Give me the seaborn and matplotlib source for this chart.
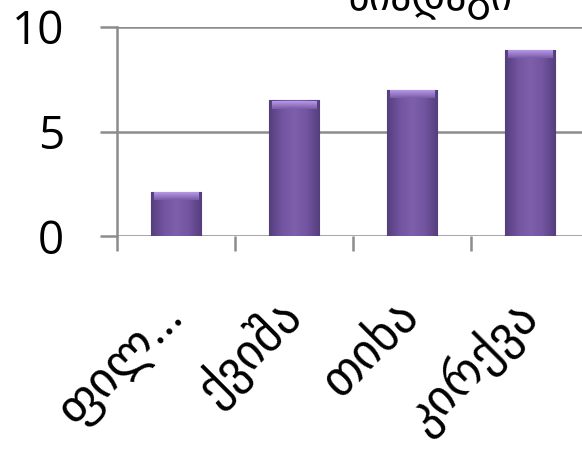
import numpy as np
import matplotlib
matplotlib.use("Agg")
import matplotlib.pyplot as plt
import seaborn as sns
import pandas as pd
from matplotlib.colors import LinearSegmentedColormap

# rock types and their values
categories = ["ფილ…", "ქვიშა", "თიხა", "კირქვა"]
values = [2.1, 6.5, 7.0, 8.9]
y_ticks = [0, 5, 10]
title_text = "ნიადაგი"

sns.set_theme(style="white")
plt.rcParams["font.family"] = ["Open Sans", "DejaVu Sans"]

W, H = 582, 449
fig = plt.figure(figsize=(W / 100, H / 100), dpi=100)
ax = fig.add_axes([117 / W, 1 - 236 / H, 472 / W, 209 / H])

df = pd.DataFrame({"cat": categories, "val": values})
sns.barplot(data=df, x="cat", y="val", color="#7a5aa6", width=0.43,
            edgecolor="#5a4282", linewidth=0.8, ax=ax, zorder=3)

# shaded fill for each bar: darker sides, lighter bevelled top
cmap_h = LinearSegmentedColormap.from_list(
    "bar", ["#553e7d", "#7254a0", "#7d5fac", "#7254a0", "#553e7d"])
cmap_top = LinearSegmentedColormap.from_list("t", ["#7a5ca8", "#b597e6"])
for p in ax.patches:
    x0, y0 = p.get_x(), p.get_y()
    w, h = p.get_width(), p.get_height()
    grad = np.tile(np.linspace(0, 1, 64), (32, 1))
    im = ax.imshow(grad, cmap=cmap_h, aspect="auto", zorder=4,
                   extent=[x0, x0 + w, y0, y0 + h], interpolation="bilinear")
    im.set_clip_path(p)
    bevel = min(0.4, h * 0.25)
    top = ax.imshow(np.linspace(1, 0, 16).reshape(-1, 1) * np.ones((16, 32)),
                    cmap=cmap_top, aspect="auto", zorder=5,
                    interpolation="bilinear",
                    extent=[x0 + w * 0.06, x0 + w * 0.94,
                            y0 + h - bevel, y0 + h - 0.03])
    top.set_clip_path(p)

ax.set_xlim(-0.5, len(categories) - 0.5)
ax.set_ylim(0, 10)
ax.set_yticks(y_ticks)
ax.set_yticklabels([str(t) for t in y_ticks])
ax.set_xlabel("")
ax.set_ylabel("")

grid_c = "#8c8c8c"
ax.yaxis.grid(True, color=grid_c, linewidth=1.8, zorder=1)
ax.xaxis.grid(False)
for s in ["top", "right", "bottom"]:
    ax.spines[s].set_visible(False)
ax.spines["left"].set_color(grid_c)
ax.spines["left"].set_linewidth(1.8)

# category boundary tick marks below the baseline
ax.set_xticks(np.arange(len(categories)) - 0.5, minor=True)
ax.tick_params(axis="x", which="minor", direction="out", length=11,
               width=1.8, color=grid_c, bottom=True)
ax.tick_params(axis="x", which="major", length=0, pad=52)
ax.tick_params(axis="y", which="major", direction="out", length=12,
               width=1.8, color=grid_c, left=True, pad=26, labelsize=33)
for lab in ax.get_xticklabels():
    lab.set_rotation(45)
    lab.set_ha("right")
    lab.set_va("center")
    lab.set_rotation_mode("anchor")
    lab.set_fontsize(35)
    lab.set_color("black")
for lab in ax.get_yticklabels():
    lab.set_color("black")

fig.text(430 / W, 1 - 9 / H, title_text, ha="center", va="baseline",
         fontsize=30, color="black")

fig.savefig("out.png", dpi=100, facecolor="white")
